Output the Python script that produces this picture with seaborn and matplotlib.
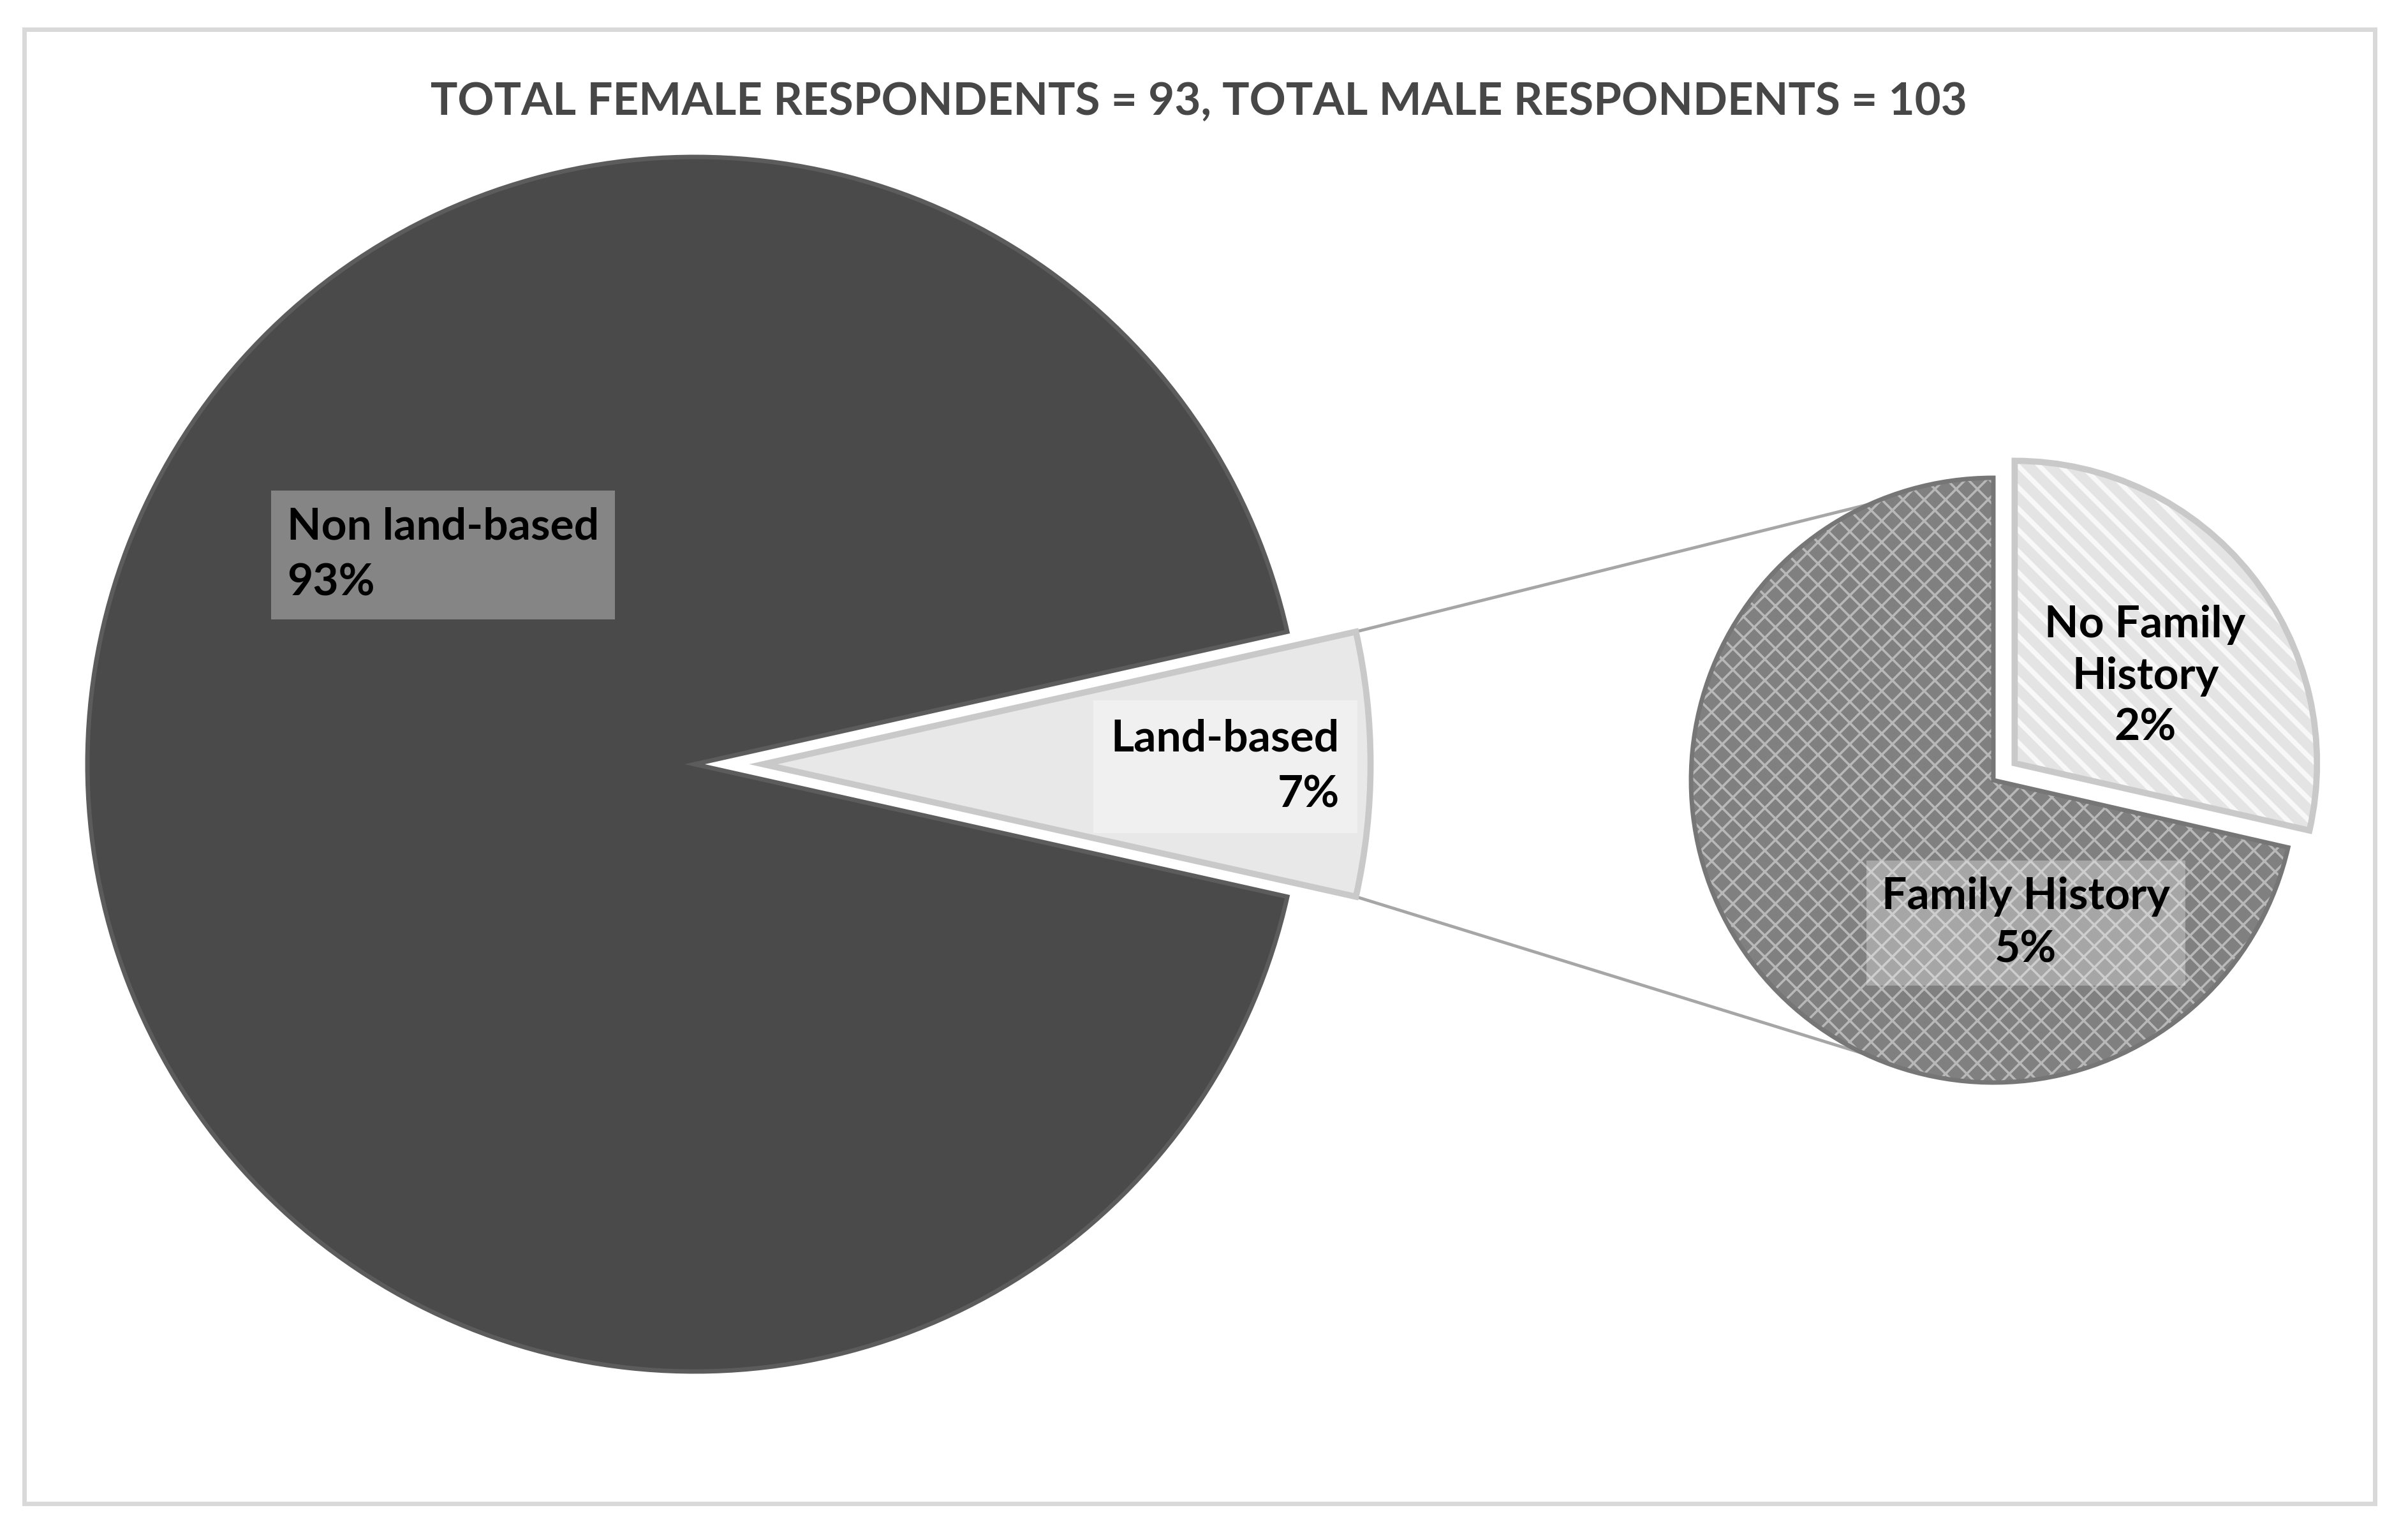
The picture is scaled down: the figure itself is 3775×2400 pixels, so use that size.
import numpy as np
import matplotlib.pyplot as plt
from matplotlib.patches import Rectangle
import seaborn as sns

# Dane
main_labels = ['Non land-based', 'Land-based']
main_values = [93, 7]
sub_labels = ['Family History', 'No Family History']
sub_values = [5, 2]
title_text = 'TOTAL FEMALE RESPONDENTS = 93, TOTAL MALE RESPONDENTS = 103'

W, H = 3775, 2400

sns.set_theme(style='white')
plt.rcParams['font.family'] = ['Lato', 'DejaVu Sans']

fig = plt.figure(figsize=(W / 100, H / 100), dpi=100)
ax = fig.add_axes([0, 0, 1, 1])


def pct(v, tot):
    return f'{round(100 * v / tot)}%'


# Duzy wykres kolowy (land-based wysuniety i wysrodkowany na 0 stopni)
c1, r1 = (1089, H - 1198), 952
tot1 = sum(main_values)
start1 = 180 * main_values[1] / tot1
w1, _ = ax.pie(main_values, center=c1, radius=r1, startangle=start1,
               explode=[0, 0.113 * r1], colors=['#4a4a4a', '#e8e8e8'],
               wedgeprops=dict(linewidth=5, edgecolor='#5c5c5c'))
w1[1].set_edgecolor('#c9c9c9')
w1[1].set_linewidth(7)

# Maly wykres kolowy (rozbicie land-based)
c2, r2 = (3125, H - 1223), 474
tot2 = sum(sub_values)
w2, _ = ax.pie(sub_values, center=c2, radius=r2, startangle=90,
               explode=[0, 0.09 * r2], colors=['#808080', '#e4e4e4'],
               hatch=['x', '\\'], wedgeprops=dict(linewidth=0))
w2[0].set_edgecolor('#b8b8b8')
w2[1].set_edgecolor('#f8f8f8')
for w, hl in zip(w2, [2.6, 5.5]):
    if hasattr(w, 'set_hatch_linewidth'):
        w.set_hatch_linewidth(hl)
    else:
        w._hatch_linewidth = hl
    w.set_linewidth(0)

w3, _ = ax.pie(sub_values, center=c2, radius=r2, startangle=90,
               explode=[0, 0.09 * r2], colors=['#808080', '#e4e4e4'],
               wedgeprops=dict(fill=False, linewidth=5))
w3[0].set_edgecolor('#767676')
w3[1].set_edgecolor('#c9c9c9')
w3[1].set_linewidth(7)

# Linie laczace
lb = w1[1]
for th_a, th_b in [(lb.theta2, 114), (lb.theta1, 245)]:
    xa = lb.center[0] + lb.r * np.cos(np.radians(th_a))
    ya = lb.center[1] + lb.r * np.sin(np.radians(th_a))
    xb = c2[0] + r2 * np.cos(np.radians(th_b))
    yb = c2[1] + r2 * np.sin(np.radians(th_b))
    ax.plot([xa, xb], [ya, yb], color='#a6a6a6', lw=3.5, zorder=0.5,
            solid_capstyle='butt')

# Etykiety
fs = 50
ax.text(450, H - 870, f'{main_labels[0]}\n{pct(main_values[0], tot1)}',
        ha='left', va='center', fontsize=fs, fontweight='bold', color='black',
        linespacing=1.5,
        bbox=dict(boxstyle='square,pad=0.36', fc='#858585', ec='none'))
ax.text(2100, H - 1202, f'{main_labels[1]}\n{pct(main_values[1], tot1)}',
        ha='right', va='center', multialignment='right', fontsize=fs,
        fontweight='bold', color='black', linespacing=1.5,
        bbox=dict(boxstyle='square,pad=0.4', fc='#f0f0f0', ec='none'))
ax.text(3363, H - 1060, 'No Family\nHistory\n' + pct(sub_values[1], tot1),
        ha='center', va='center', fontsize=fs, fontweight='bold',
        color='black', linespacing=1.35)
ax.text(3176, H - 1447, f'{sub_labels[0]}\n{pct(sub_values[0], tot1)}',
        ha='center', va='center', fontsize=fs, fontweight='bold',
        color='black', linespacing=1.4,
        bbox=dict(boxstyle='square,pad=0.35', fc='white', alpha=0.3, ec='none'))

ax.text(1879, H - 159, title_text, ha='center', va='center', fontsize=51,
        fontweight='bold', color='#474747')

# Ramka wykresu
ax.add_patch(Rectangle((38, H - 2357), 3685, 2311, fill=False,
                       ec='#d9d9d9', lw=5, zorder=0))

ax.set_xlim(0, W)
ax.set_ylim(0, H)
ax.set_aspect('equal')
ax.axis('off')

fig.savefig('out.png', dpi=100, facecolor='white')
